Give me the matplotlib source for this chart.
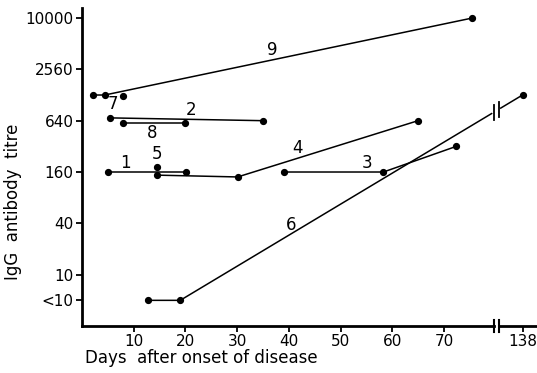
import matplotlib.pyplot as plt
import numpy as np

# day values, 138 sits after the axis break
BREAK_POS = 80.1
POS_138 = 85.2

s1_days, s1_titre = [5, 20.2], [160, 160]
s2_days, s2_titre = [5.5, 35], [690, 640]
s3_days, s3_titre = [39, 58.3, 72.4], [160, 160, 320]
s4_days, s4_titre = [14.6, 30.1, 65], [147, 140, 640]
s5_days, s5_titre = [14.6], [183]
s6_days, s6_titre = [12.8, 19, 138], [5, 5, 1280]
s8_days, s8_titre = [8, 20], [602, 602]
s9_days, s9_titre = [2.2, 4.4, 8, 75.5], [1280, 1280, 1240, 10240]

labels = {'9': (36.7, 4320), '7': (5.9, 1005), '2': (21, 855), '8': (13.6, 460),
          '1': (8.4, 204), '5': (14.6, 260), '4': (41.7, 306), '3': (55.2, 204),
          '6': (40.5, 38)}

ytick_vals = [5, 10, 40, 160, 640, 2560, 10240]
ytick_labels = ['<10', '10', '40', '160', '640', '2560', '10000']
xtick_days = [10, 20, 30, 40, 50, 60, 70, 138]


def pos(days):
    return [POS_138 + (d - 138) if d > 100 else d for d in days]


fig = plt.figure(figsize=(5.37, 3.73), dpi=100)
ax = fig.add_axes([0.1527, 0.126, 0.8473, 0.8524])

style = dict(color='black', lw=1.1, marker='o', ms=4.2)
for d, t in [(s1_days, s1_titre), (s2_days, s2_titre), (s3_days, s3_titre),
             (s4_days, s4_titre), (s5_days, s5_titre), (s6_days, s6_titre),
             (s8_days, s8_titre)]:
    ax.plot(pos(d), t, **style)

# patient 9: the day 8 point sits just under the rising line
ax.plot([s9_days[i] for i in (0, 1, 3)], [s9_titre[i] for i in (0, 1, 3)], **style)
ax.plot(s9_days[2], s9_titre[2], 'o', color='black', ms=4.2)

# break on line 6
p6 = pos(s6_days)
lt = np.interp([BREAK_POS - 0.5, BREAK_POS, BREAK_POS + 0.5], p6[1:], np.log(s6_titre[1:]))
ax.plot([BREAK_POS - 0.45, BREAK_POS + 0.45], np.exp([lt[0], lt[2]]), color='white', lw=2.5, zorder=3)
for bx, l in [(BREAK_POS - 0.5, lt[0]), (BREAK_POS + 0.5, lt[2])]:
    ax.plot([bx, bx], [np.exp(l) / 1.22, np.exp(l) * 1.22], color='black', lw=1.3, zorder=4)

for txt, (x, y) in labels.items():
    ax.text(x, y, txt, fontsize=12, ha='center', va='center')

ax.set_yscale('log')
ax.set_ylim(2.5, 13400)
ax.set_xlim(0, 88)
ax.set_yticks(ytick_vals)
ax.set_yticklabels(ytick_labels)
ax.minorticks_off()
ax.set_xticks(pos(xtick_days))
ax.set_xticklabels([str(d) for d in xtick_days])
ax.tick_params(labelsize=11, width=1.3, length=4, pad=2)

for s in ['top', 'right', 'bottom']:
    ax.spines[s].set_visible(False)
ax.spines['left'].set_linewidth(2)

# broken x axis line
tr = ax.get_xaxis_transform()
ax.plot([0, BREAK_POS - 0.5], [0, 0], color='black', lw=2, transform=tr, clip_on=False)
ax.plot([BREAK_POS + 0.5, 88], [0, 0], color='black', lw=2, transform=tr, clip_on=False)
for bx in [BREAK_POS - 0.5, BREAK_POS + 0.5]:
    ax.plot([bx, bx], [-0.02, 0.02], color='black', lw=1.5, transform=tr, clip_on=False)

fig.text(0.024, 0.46, 'IgG  antibody  titre', rotation=90, fontsize=12, ha='center', va='center')
fig.text(0.158, 0.04, 'Days  after onset of disease', fontsize=12, ha='left', va='center')

fig.savefig('out.png', dpi=100)
